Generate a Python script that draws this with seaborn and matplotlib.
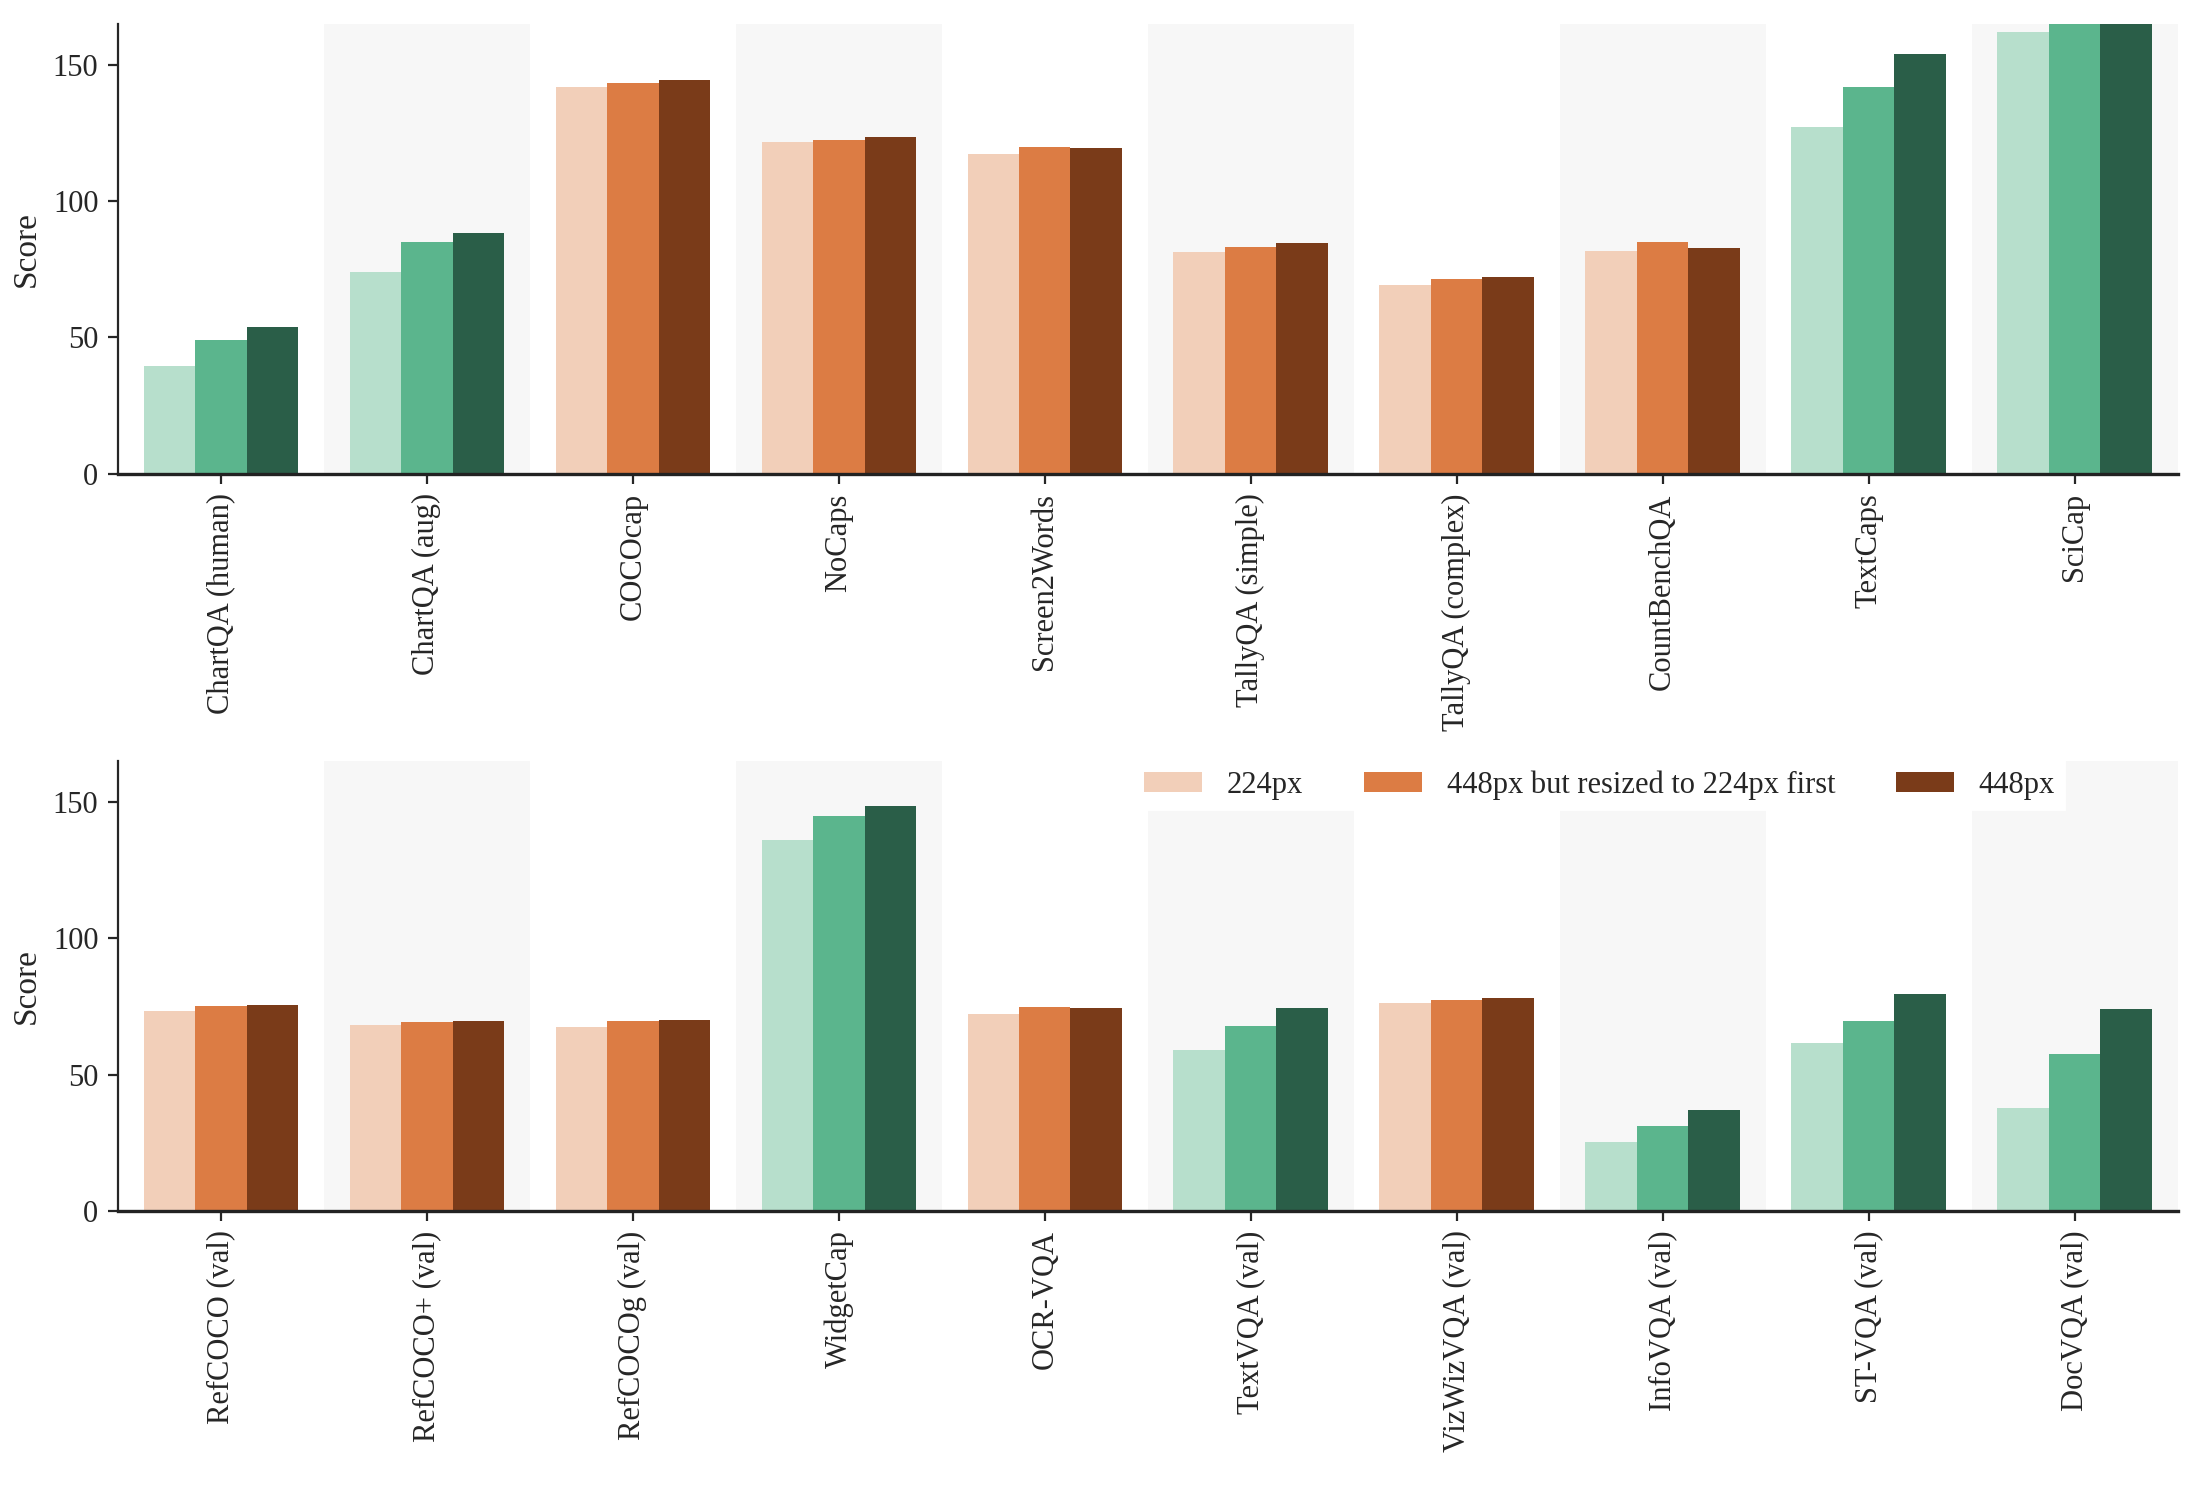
import numpy as np
import pandas as pd
import matplotlib
matplotlib.use("Agg")
import matplotlib.pyplot as plt
import seaborn as sns

# resolution settings (hue levels)
resolutions = ["224px", "448px but resized to 224px first", "448px"]

# top panel
top_tasks = ["ChartQA (human)", "ChartQA (aug)", "COCOcap", "NoCaps", "Screen2Words",
             "TallyQA (simple)", "TallyQA (complex)", "CountBenchQA", "TextCaps", "SciCap"]
top_224 = [39.6, 73.8, 141.7, 121.5, 117.4, 81.4, 69.3, 81.5, 127.3, 162.1]
top_448r = [49.1, 85.1, 143.1, 122.2, 119.9, 83.3, 71.4, 85.0, 141.8, 168.0]
top_448 = [53.8, 88.1, 144.4, 123.5, 119.3, 84.5, 72.0, 82.8, 153.8, 171.0]
top_green = ["ChartQA (human)", "ChartQA (aug)", "TextCaps", "SciCap"]

# bottom panel
bot_tasks = ["RefCOCO (val)", "RefCOCO+ (val)", "RefCOCOg (val)", "WidgetCap", "OCR-VQA",
             "TextVQA (val)", "VizWizVQA (val)", "InfoVQA (val)", "ST-VQA (val)", "DocVQA (val)"]
bot_224 = [73.3, 68.3, 67.6, 136.2, 72.2, 58.9, 76.4, 25.4, 61.6, 37.8]
bot_448r = [75.2, 69.3, 69.8, 144.9, 74.8, 67.8, 77.2, 31.1, 69.8, 57.7]
bot_448 = [75.6, 69.7, 70.2, 148.4, 74.6, 74.6, 78.1, 37.0, 79.7, 74.2]
bot_green = ["WidgetCap", "TextVQA (val)", "InfoVQA (val)", "ST-VQA (val)", "DocVQA (val)"]

oranges = ["#f2cfb9", "#dc7c44", "#7a3b19"]
greens = ["#b7dfcc", "#5bb58d", "#2a5e48"]

sns.set_style("ticks")
plt.rcParams["font.family"] = ["Liberation Serif", "DejaVu Serif"]
plt.rcParams["font.size"] = 11


def to_frame(tasks, a, b, c):
    rows = []
    for t, v1, v2, v3 in zip(tasks, a, b, c):
        for r, v in zip(resolutions, (v1, v2, v3)):
            rows.append({"task": t, "res": r, "score": v})
    return pd.DataFrame(rows)


def draw_panel(ax, tasks, a, b, c, green_tasks, legend=False):
    df = to_frame(tasks, a, b, c)
    # light shading behind every other task
    for i in range(len(tasks)):
        if i % 2 == 1:
            ax.axvspan(i - 0.5, i + 0.5, color="#f7f7f7", zorder=0, lw=0)
    is_green = df["task"].isin(green_tasks)
    sns.barplot(data=df[~is_green], x="task", y="score", hue="res", order=tasks,
                hue_order=resolutions, palette=oranges, width=0.75, linewidth=0,
                saturation=1, ax=ax, zorder=2, legend=legend)
    sns.barplot(data=df[is_green], x="task", y="score", hue="res", order=tasks,
                hue_order=resolutions, palette=greens, width=0.75, linewidth=0,
                saturation=1, ax=ax, zorder=2, legend=False)
    ax.set_xlim(-0.5, len(tasks) - 0.5)
    ax.set_ylim(0, 165)
    ax.set_yticks([0, 50, 100, 150])
    ax.set_xlabel("")
    ax.set_ylabel("Score", fontsize=12)
    ax.tick_params(axis="x", labelrotation=90, labelsize=11)
    ax.tick_params(axis="y", labelsize=11)
    sns.despine(ax=ax)
    ax.spines["bottom"].set_linewidth(1.2)
    ax.spines["bottom"].set_color("#222222")


fig = plt.figure(figsize=(11.02, 7.425), dpi=200)
ax_top = fig.add_axes([0.0535, 0.681, 0.9345, 0.303])
ax_bot = fig.add_axes([0.0535, 0.1845, 0.9345, 0.303])

draw_panel(ax_top, top_tasks, top_224, top_448r, top_448, top_green)
draw_panel(ax_bot, bot_tasks, bot_224, bot_448r, bot_448, bot_green, legend=True)

leg = ax_bot.legend(loc="upper right", bbox_to_anchor=(0.945, 1.0), ncol=3, title=None,
                    frameon=True, fancybox=False, framealpha=1, facecolor="white",
                    edgecolor="white", fontsize=11, handlelength=1.9, handleheight=0.65,
                    handletextpad=0.8, columnspacing=2.0, borderpad=0.3,
                    borderaxespad=0)
leg.set_zorder(5)

fig.savefig("out.png", dpi=200)
